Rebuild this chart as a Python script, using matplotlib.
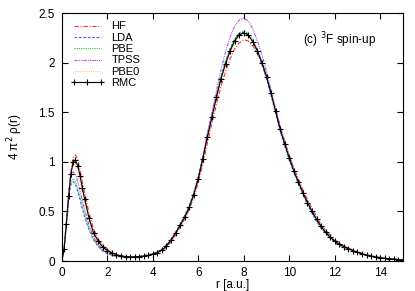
import matplotlib
matplotlib.use("Agg")
import matplotlib.pyplot as plt

plt.rcParams['font.family'] = ['Liberation Sans', 'DejaVu Sans']

# radial grid [a.u.]
r = [0.0, 0.1, 0.2, 0.3, 0.4, 0.5, 0.6, 0.7, 0.8, 0.9, 1.0,
     1.2, 1.4, 1.6, 1.8, 2.0, 2.2, 2.4, 2.6, 2.8, 3.0,
     3.2, 3.4, 3.6, 3.8, 4.0, 4.2, 4.4, 4.6, 4.8, 5.0,
     5.2, 5.4, 5.6, 5.8, 6.0, 6.2, 6.4, 6.6, 6.8, 7.0,
     7.2, 7.4, 7.6, 7.8, 8.0, 8.2, 8.4, 8.6, 8.8, 9.0,
     9.2, 9.4, 9.6, 9.8, 10.0, 10.2, 10.4, 10.6, 10.8, 11.0,
     11.2, 11.4, 11.6, 11.8, 12.0, 12.2, 12.4, 12.6, 12.8, 13.0,
     13.2, 13.4, 13.6, 13.8, 14.0, 14.2, 14.4, 14.6, 14.8, 15.0]

hf = [0.00, 0.13, 0.38, 0.68, 0.91, 1.04, 1.07, 1.02, 0.92, 0.80, 0.69,
      0.48, 0.32, 0.22, 0.155, 0.115, 0.087, 0.068, 0.055, 0.047, 0.043,
      0.042, 0.044, 0.049, 0.056, 0.066, 0.080, 0.102, 0.138, 0.19, 0.26,
      0.34, 0.42, 0.52, 0.64, 0.79, 0.98, 1.19, 1.39, 1.58, 1.76,
      1.91, 2.04, 2.14, 2.20, 2.23, 2.22, 2.17, 2.09, 1.98, 1.85,
      1.70, 1.53, 1.36, 1.21, 1.07, 0.94, 0.83, 0.72, 0.62, 0.53,
      0.45, 0.37, 0.31, 0.26, 0.215, 0.18, 0.155, 0.132, 0.112, 0.094,
      0.078, 0.064, 0.053, 0.044, 0.036, 0.029, 0.024, 0.019, 0.016, 0.013]

lda = [0.00, 0.14, 0.40, 0.63, 0.77, 0.80, 0.77, 0.70, 0.62, 0.53, 0.45,
       0.31, 0.21, 0.145, 0.10, 0.075, 0.058, 0.048, 0.042, 0.039, 0.039,
       0.041, 0.046, 0.053, 0.063, 0.077, 0.095, 0.122, 0.163, 0.22, 0.29,
       0.37, 0.46, 0.56, 0.69, 0.86, 1.06, 1.28, 1.48, 1.68, 1.86,
       2.01, 2.14, 2.24, 2.29, 2.31, 2.28, 2.21, 2.11, 1.98, 1.84,
       1.67, 1.49, 1.31, 1.16, 1.02, 0.89, 0.78, 0.67, 0.57, 0.48,
       0.40, 0.33, 0.28, 0.23, 0.19, 0.16, 0.14, 0.12, 0.10, 0.085,
       0.071, 0.059, 0.049, 0.040, 0.033, 0.027, 0.022, 0.018, 0.015, 0.012]

pbe = [0.00, 0.14, 0.40, 0.64, 0.79, 0.83, 0.80, 0.73, 0.65, 0.56, 0.47,
       0.33, 0.22, 0.155, 0.108, 0.08, 0.062, 0.050, 0.044, 0.040, 0.040,
       0.041, 0.045, 0.051, 0.060, 0.073, 0.090, 0.116, 0.157, 0.215, 0.285,
       0.365, 0.45, 0.55, 0.68, 0.85, 1.05, 1.27, 1.47, 1.67, 1.86,
       2.01, 2.14, 2.24, 2.30, 2.32, 2.30, 2.23, 2.13, 2.01, 1.87,
       1.70, 1.52, 1.34, 1.18, 1.04, 0.91, 0.79, 0.68, 0.58, 0.49,
       0.41, 0.34, 0.285, 0.235, 0.195, 0.165, 0.14, 0.12, 0.10, 0.085,
       0.071, 0.059, 0.049, 0.040, 0.033, 0.027, 0.022, 0.018, 0.015, 0.012]

tpss = [0.00, 0.13, 0.39, 0.67, 0.85, 0.90, 0.87, 0.80, 0.71, 0.61, 0.52,
        0.36, 0.24, 0.165, 0.115, 0.085, 0.065, 0.052, 0.045, 0.041, 0.040,
        0.041, 0.044, 0.050, 0.058, 0.070, 0.086, 0.110, 0.150, 0.205, 0.275,
        0.355, 0.44, 0.54, 0.67, 0.84, 1.05, 1.28, 1.50, 1.72, 1.93,
        2.11, 2.26, 2.37, 2.43, 2.45, 2.42, 2.34, 2.22, 2.08, 1.91,
        1.73, 1.54, 1.36, 1.20, 1.06, 0.93, 0.81, 0.70, 0.60, 0.51,
        0.43, 0.36, 0.30, 0.25, 0.205, 0.172, 0.146, 0.124, 0.104, 0.087,
        0.072, 0.060, 0.050, 0.041, 0.034, 0.028, 0.023, 0.019, 0.015, 0.012]

pbe0 = [0.00, 0.13, 0.38, 0.67, 0.88, 0.96, 0.95, 0.89, 0.79, 0.68, 0.58,
        0.40, 0.27, 0.185, 0.13, 0.095, 0.073, 0.058, 0.049, 0.044, 0.042,
        0.042, 0.045, 0.050, 0.058, 0.069, 0.084, 0.108, 0.146, 0.20, 0.27,
        0.35, 0.43, 0.53, 0.66, 0.82, 1.02, 1.23, 1.43, 1.63, 1.82,
        1.97, 2.10, 2.20, 2.26, 2.28, 2.27, 2.21, 2.12, 2.00, 1.86,
        1.70, 1.52, 1.34, 1.19, 1.05, 0.92, 0.81, 0.70, 0.60, 0.51,
        0.43, 0.36, 0.30, 0.25, 0.205, 0.172, 0.147, 0.126, 0.106, 0.089,
        0.074, 0.061, 0.051, 0.042, 0.034, 0.028, 0.023, 0.019, 0.015, 0.012]

rmc = [0.00, 0.12, 0.37, 0.66, 0.88, 1.00, 1.02, 0.96, 0.86, 0.74, 0.63,
       0.43, 0.28, 0.20, 0.14, 0.105, 0.080, 0.063, 0.052, 0.045, 0.042,
       0.042, 0.045, 0.050, 0.058, 0.070, 0.085, 0.110, 0.150, 0.21, 0.28,
       0.36, 0.44, 0.54, 0.67, 0.83, 1.03, 1.25, 1.45, 1.65, 1.84,
       1.99, 2.12, 2.22, 2.28, 2.30, 2.28, 2.21, 2.12, 2.00, 1.86,
       1.69, 1.51, 1.33, 1.18, 1.04, 0.91, 0.80, 0.69, 0.59, 0.50,
       0.42, 0.35, 0.29, 0.24, 0.20, 0.17, 0.145, 0.125, 0.105, 0.088,
       0.073, 0.060, 0.050, 0.041, 0.033, 0.027, 0.022, 0.018, 0.015, 0.012]

fig = plt.figure(figsize=(4.15, 2.91), dpi=100)
ax = fig.add_axes([0.149, 0.103, 0.822, 0.852])

ax.plot(r, hf, color='#ff3030', lw=0.8, ls=(0, (4, 1.5, 1, 1.5)), label='HF')
ax.plot(r, lda, color='#4060ff', lw=0.8, ls=(0, (2.5, 1.5)), label='LDA')
ax.plot(r, pbe, color='#20d020', lw=0.8, ls=(0, (1, 1)), label='PBE')
ax.plot(r, tpss, color='#b050f0', lw=0.8, ls=(0, (3, 1, 1, 1, 1, 1)), label='TPSS')
ax.plot(r, pbe0, color='#ffb040', lw=0.6, ls=(0, (1, 1.5)), label='PBE0')
ax.plot(r, rmc, color='black', lw=0.8, marker='+', ms=5, mew=0.8, label='RMC')

ax.set_xlim(0, 15)
ax.set_ylim(0, 2.5)
ax.set_xticks([0, 2, 4, 6, 8, 10, 12, 14])
ax.set_yticks([0, 0.5, 1, 1.5, 2, 2.5])
ax.set_yticklabels(['0', '0.5', '1', '1.5', '2', '2.5'])
ax.tick_params(direction='in', top=True, right=True, labelsize=8.5, length=4,
               width=0.8, pad=5)
ax.tick_params(axis='x', pad=4)
for s in ax.spines.values():
    s.set_linewidth(0.8)

ax.set_xlabel('r [a.u.]', fontsize=8.5, labelpad=0)
ax.set_ylabel('4 π$^2$ ρ(r)', fontsize=8.5, labelpad=10)

ax.text(0.708, 0.875, r'(c) $^3$F spin-up', transform=ax.transAxes, fontsize=8.5)

ax.legend(loc='upper left', bbox_to_anchor=(0.0, 1.0), frameon=False, fontsize=8,
          handlelength=3.1, handletextpad=0.6, labelspacing=0.12, numpoints=3,
          borderaxespad=0.35)

fig.savefig('out.png', dpi=100)
